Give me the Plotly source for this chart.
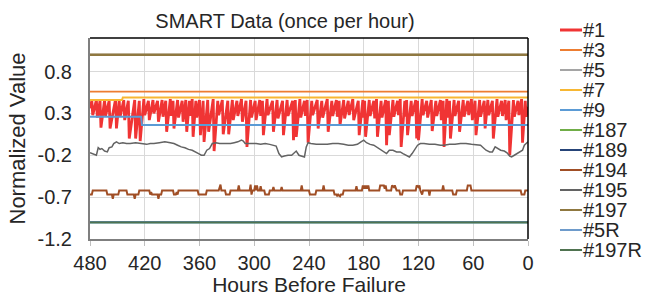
import plotly.graph_objects as go

# ---------------- data ----------------
x_ticks = [480, 420, 360, 300, 240, 180, 120, 60, 0]
y_tickvals = [-1.2, -0.7, -0.2, 0.3, 0.8]
y_ticktext = ["-1.2", "-0.7", "-0.2", "0.3", "0.8"]

series_names = ["#1", "#3", "#5", "#7", "#9", "#187", "#189",
                "#194", "#195", "#197", "#5R", "#197R"]

# #1 : sawtooth (hour, normalized value)
red_points = [
    (480, 0.36),
    (478, 0.45), (477, 0.28), (473, 0.46), (472, 0.25), (469, 0.45), (468, 0.13),
    (464, 0.46), (463, 0.27), (459, 0.45), (458, 0.12), (452, 0.47), (451, 0.12),
    (448, 0.45), (447, 0.26), (443, 0.46), (442, 0.22), (438, 0.45), (437, 0.00),
    (431, 0.46), (430, 0.00), (426, 0.45), (425, -0.03), (421, 0.47), (420, 0.28),
    (416, 0.45), (415, 0.22), (411, 0.46), (410, 0.30), (406, 0.45), (405, 0.20),
    (401, 0.46), (400, 0.26), (397, 0.45), (396, 0.08), (392, 0.47), (391, 0.27),
    (389, 0.45), (388, 0.12), (384, 0.46), (383, 0.25), (379, 0.45), (378, 0.20),
    (375, 0.46), (374, 0.08), (371, 0.45), (370, 0.27), (368, 0.47), (367, 0.02),
    (364, 0.45), (363, 0.25), (360, 0.46), (359, 0.04), (356, 0.45), (355, -0.04),
    (351, 0.46), (350, 0.08), (345, 0.47), (344, -0.15), (340, 0.45), (339, 0.28),
    (335, 0.46), (334, 0.05), (329, 0.45), (328, 0.05), (324, 0.46), (323, 0.22),
    (319, 0.45), (318, 0.27), (314, 0.47), (313, 0.20), (309, 0.45), (308, -0.10),
    (304, 0.46), (303, 0.25), (299, 0.45), (298, 0.22), (294, 0.46), (293, 0.27),
    (291, 0.45), (290, 0.04), (286, 0.47), (285, 0.28), (280, 0.45), (279, 0.08),
    (275, 0.46), (274, 0.24), (269, 0.45), (268, 0.04), (264, 0.46), (263, 0.27),
    (258, 0.45), (257, -0.02), (255, 0.46), (254, 0.02), (250, 0.47), (249, 0.25),
    (245, 0.45), (244, 0.27), (242, 0.46), (241, -0.05), (237, 0.45), (236, 0.28),
    (231, 0.46), (230, 0.12), (226, 0.45), (225, 0.25), (220, 0.47), (219, 0.08),
    (215, 0.45), (214, 0.27), (210, 0.46), (209, 0.26), (207, 0.45), (206, 0.16),
    (202, 0.46), (201, 0.24), (197, 0.45), (196, 0.28), (192, 0.47), (191, 0.22),
    (186, 0.45), (185, 0.04), (181, 0.46), (180, 0.25), (179, 0.45), (178, 0.02),
    (174, 0.46), (173, 0.27), (169, 0.45), (168, 0.24), (166, 0.47), (165, 0.02),
    (161, 0.45), (160, 0.25), (156, 0.46), (155, -0.08), (153, 0.45), (152, 0.04),
    (148, 0.46), (147, 0.26), (143, 0.45), (142, 0.28), (140, 0.47), (139, -0.10),
    (135, 0.45), (134, 0.26), (133, 0.46), (132, 0.04), (128, 0.45), (127, 0.27),
    (123, 0.46), (122, 0.00), (121, 0.45), (120, -0.02), (116, 0.47), (115, 0.28),
    (111, 0.45), (110, 0.25), (106, 0.46), (105, 0.09), (101, 0.45), (100, 0.27),
    (96, 0.46), (95, 0.22), (93, 0.45), (92, -0.10), (89, 0.47), (88, 0.25),
    (86, 0.45), (85, 0.00), (81, 0.46), (80, 0.27), (76, 0.45), (75, 0.08),
    (71, 0.46), (70, 0.26), (66, 0.45), (65, 0.28), (62, 0.47), (61, 0.22),
    (58, 0.45), (57, 0.04), (53, 0.46), (52, 0.26), (48, 0.45), (47, 0.12),
    (44, 0.46), (43, 0.28), (39, 0.45), (38, 0.00), (34, 0.47), (33, 0.26),
    (29, 0.45), (28, 0.27), (25, 0.46), (24, 0.22), (21, 0.45), (20, -0.20),
    (16, 0.46), (15, 0.26), (11, 0.45), (10, 0.28), (7, 0.47), (6, -0.05),
    (3, 0.45), (2, 0.26), (0, 0.38),
]
red_hours = [p[0] for p in red_points]
red_values = [p[1] for p in red_points]

# #195 : dark gray wandering line
gray_points = [
    (480, -0.17), (477, -0.18), (473, -0.20), (471, -0.11), (469, -0.13), (467, -0.12),
    (464, -0.15), (461, -0.16), (459, -0.11), (456, -0.10), (454, -0.06), (451, -0.04),
    (448, -0.06), (444, -0.05), (440, -0.06), (436, -0.06), (430, -0.05), (424, -0.06),
    (418, -0.07), (414, -0.06), (410, -0.06), (404, -0.05), (398, -0.04), (392, -0.05),
    (388, -0.06), (384, -0.08), (380, -0.10), (376, -0.11), (372, -0.13), (368, -0.14),
    (364, -0.16), (361, -0.18), (358, -0.20), (355, -0.20), (352, -0.14), (349, -0.12),
    (346, -0.06), (342, -0.05), (338, -0.06), (334, -0.06), (330, -0.06), (326, -0.06),
    (322, -0.05), (318, -0.04), (314, -0.02), (312, -0.03), (310, -0.06), (306, -0.06),
    (302, -0.06), (298, -0.06), (293, -0.07), (288, -0.06), (283, -0.07), (279, -0.08),
    (276, -0.09), (273, -0.18), (270, -0.22), (267, -0.21), (263, -0.20), (259, -0.20),
    (256, -0.17), (254, -0.15), (251, -0.20), (248, -0.21), (245, -0.22), (243, -0.10),
    (241, -0.05), (238, -0.06), (232, -0.07), (226, -0.07), (220, -0.07), (214, -0.06),
    (208, -0.06), (202, -0.07), (197, -0.08), (192, -0.08), (187, -0.07), (183, -0.04),
    (180, -0.02), (177, -0.05), (173, -0.07), (169, -0.08), (166, -0.10), (162, -0.13),
    (158, -0.16), (155, -0.18), (152, -0.14), (148, -0.14), (144, -0.16), (140, -0.16),
    (137, -0.18), (134, -0.20), (130, -0.22), (127, -0.18), (124, -0.13), (121, -0.08),
    (118, -0.06), (114, -0.06), (108, -0.07), (102, -0.07), (96, -0.08), (92, -0.08),
    (86, -0.07), (80, -0.07), (74, -0.06), (68, -0.06), (62, -0.07), (56, -0.08),
    (52, -0.08), (49, -0.11), (46, -0.14), (42, -0.16), (39, -0.16), (36, -0.10),
    (33, -0.12), (30, -0.14), (26, -0.15), (23, -0.17), (20, -0.21), (18, -0.22),
    (15, -0.20), (12, -0.18), (9, -0.16), (6, -0.14), (4, -0.08), (2, -0.06), (0, -0.04),
]
gray_hours = [p[0] for p in gray_points]
gray_values = [p[1] for p in gray_points]

# #194 : brown stepped line
brown_points = [
    (480, -0.67), (478, -0.67), (477, -0.62), (462, -0.62), (461, -0.67), (456, -0.67),
    (455, -0.72), (454, -0.67), (449, -0.67), (448, -0.62), (440, -0.62), (439, -0.67),
    (432, -0.67), (431, -0.72), (430, -0.67), (427, -0.67), (426, -0.62), (415, -0.62),
    (414, -0.67), (413, -0.64), (412, -0.67), (406, -0.67), (405, -0.72), (404, -0.67),
    (402, -0.67), (401, -0.62), (389, -0.62), (388, -0.67), (386, -0.67), (385, -0.64),
    (384, -0.67), (383, -0.62), (362, -0.62), (361, -0.67), (353, -0.67), (352, -0.62),
    (339, -0.62), (338, -0.58), (337, -0.55), (336, -0.62), (332, -0.62), (331, -0.67),
    (327, -0.67), (326, -0.62), (318, -0.62), (317, -0.56), (316, -0.62), (305, -0.62),
    (304, -0.55), (303, -0.67), (302, -0.62), (300, -0.62), (299, -0.56), (298, -0.62),
    (297, -0.56), (296, -0.62), (294, -0.62), (293, -0.57), (292, -0.62), (289, -0.62),
    (288, -0.67), (284, -0.67), (283, -0.62), (280, -0.62), (279, -0.58), (278, -0.62),
    (271, -0.62), (270, -0.58), (269, -0.62), (249, -0.62), (248, -0.56), (247, -0.62),
    (240, -0.62), (239, -0.67), (233, -0.67), (232, -0.62), (225, -0.62), (224, -0.56),
    (223, -0.62), (213, -0.62), (212, -0.67), (210, -0.67), (209, -0.69), (208, -0.67),
    (206, -0.69), (205, -0.67), (203, -0.67), (202, -0.62), (189, -0.62), (188, -0.57),
    (187, -0.62), (182, -0.62), (181, -0.56), (180, -0.60), (179, -0.56), (178, -0.60),
    (177, -0.56), (176, -0.60), (175, -0.56), (174, -0.62), (163, -0.62), (162, -0.56),
    (158, -0.56), (157, -0.60), (156, -0.56), (155, -0.62), (150, -0.62), (149, -0.56),
    (147, -0.58), (146, -0.56), (144, -0.62), (141, -0.62), (140, -0.67), (138, -0.67),
    (137, -0.62), (123, -0.62), (122, -0.56), (120, -0.58), (119, -0.56), (118, -0.62),
    (116, -0.67), (115, -0.62), (109, -0.62), (108, -0.68), (107, -0.62), (94, -0.62),
    (93, -0.56), (92, -0.62), (83, -0.62), (82, -0.67), (79, -0.67), (78, -0.62),
    (67, -0.62), (66, -0.56), (63, -0.56), (62, -0.62), (8, -0.62), (7, -0.67),
    (4, -0.67), (3, -0.62), (0, -0.62),
]
brown_hours = [p[0] for p in brown_points]
brown_values = [p[1] for p in brown_points]

# near-constant series
s3_hours, s3_values = [480, 0], [0.56, 0.56]
s5_hours, s5_values = [480, 0], [1.0, 1.0]
s7_hours, s7_values = [480, 445, 444, 0], [0.46, 0.46, 0.49, 0.49]
s9_hours, s9_values = [480, 424, 423, 0], [0.26, 0.26, 0.16, 0.16]
s187_hours, s187_values = [480, 0], [-1.0, -1.0]
s189_hours, s189_values = [480, 0], [-1.0, -1.0]
s197_hours, s197_values = [480, 0], [1.0, 1.0]
s5r_hours, s5r_values = [480, 0], [-1.0, -1.0]
s197r_hours, s197r_values = [480, 0], [-1.0, -1.0]

series_data = [
    (red_hours, red_values), (s3_hours, s3_values), (s5_hours, s5_values),
    (s7_hours, s7_values), (s9_hours, s9_values), (s187_hours, s187_values),
    (s189_hours, s189_values), (brown_hours, brown_values), (gray_hours, gray_values),
    (s197_hours, s197_values), (s5r_hours, s5r_values), (s197r_hours, s197r_values),
]

# ---------------- styles ----------------
colors = ["#F03434", "#ED7D31", "#A5A5A5", "#F7B733", "#5B9BD5", "#70AD47",
          "#264478", "#A04E25", "#636363", "#8F7840", "#6E9BCB", "#4F7350"]
widths = [2.8, 1.75, 2, 2, 2, 2.5, 2, 2, 1.5, 2.5, 2, 1.5]
FONT = "Liberation Sans, Arial, sans-serif"
TXT = "#262626"

fig = go.Figure()
for name, (hx, vy), c, w in zip(series_names, series_data, colors, widths):
    fig.add_trace(go.Scatter(x=hx, y=vy, mode="lines", name=name,
                             line=dict(color=c, width=w), showlegend=False))

# plot geometry in pixels
W, H = 645, 296
L, R, T, B = 90, 117, 38, 57
pw, ph = W - L - R, H - T - B

def px_x(x):
    return (x - L) / pw

def px_y(y):
    return (H - B - y) / ph

shapes = [
    dict(type="line", xref="paper", yref="paper", x0=0, x1=1, y0=1, y1=1,
         line=dict(color="#000000", width=1.5)),
    dict(type="line", xref="paper", yref="paper", x0=1, x1=1, y0=0, y1=1,
         line=dict(color="#000000", width=1.5)),
]
annotations = []
for i, (name, c, w) in enumerate(zip(series_names, colors, widths)):
    yy = px_y(30 + 20 * i)
    shapes.append(dict(type="line", xref="paper", yref="paper",
                       x0=px_x(560), x1=px_x(582), y0=yy, y1=yy,
                       line=dict(color=c, width=3 if i == 0 else 2)))
    annotations.append(dict(text=name, xref="paper", yref="paper", x=px_x(581),
                            y=yy, xanchor="left", yanchor="middle", showarrow=False,
                            font=dict(family=FONT, size=20, color=TXT)))

fig.update_layout(
    width=W, height=H,
    margin=dict(l=L, r=R, t=T, b=B, pad=0),
    paper_bgcolor="white", plot_bgcolor="white",
    title=dict(text="SMART Data (once per hour)", x=285 / W, xref="container",
               xanchor="center", y=1 - 21 / H, yref="container", yanchor="middle",
               font=dict(family=FONT, size=20, color=TXT)),
    xaxis=dict(range=[480, 0], tickvals=x_ticks, ticks="outside", ticklen=5,
               tickcolor="#BFBFBF", showgrid=True, gridcolor="#D9D9D9", gridwidth=1,
               showline=True, linecolor="#7F7F7F", linewidth=1.5, zeroline=False,
               tickfont=dict(family=FONT, size=20, color=TXT),
               title=dict(text="Hours Before Failure", standoff=0,
                          font=dict(family=FONT, size=21, color=TXT)),
               automargin=False),
    yaxis=dict(range=[-1.2, 1.2], tickvals=y_tickvals, ticktext=y_ticktext,
               ticks="", showgrid=True, gridcolor="#D9D9D9", gridwidth=1,
               showline=True, linecolor="#7F7F7F", linewidth=2, zeroline=False,
               ticklabelstandoff=12,
               tickfont=dict(family=FONT, size=20, color=TXT),
               title=dict(text="Normalized Value", standoff=6,
                          font=dict(family=FONT, size=22, color=TXT)),
               automargin=False),
    shapes=shapes, annotations=annotations,
)

fig.write_html("out.html", config={"displayModeBar": False},
               post_script="document.body.style.margin='0';")
